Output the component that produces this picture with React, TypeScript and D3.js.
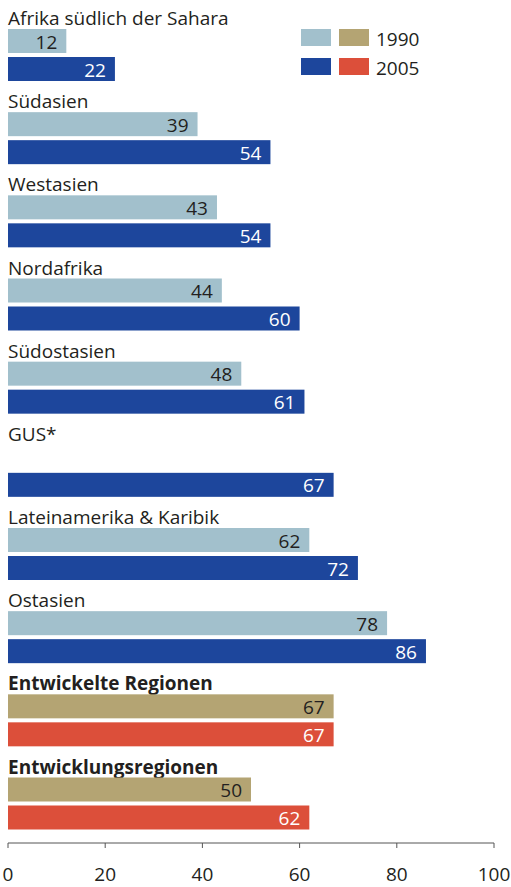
import React from 'react';
import * as d3 from 'd3';

const regions = [
  'Afrika südlich der Sahara',
  'Südasien',
  'Westasien',
  'Nordafrika',
  'Südostasien',
  'GUS*',
  'Lateinamerika & Karibik',
  'Ostasien',
  'Entwickelte Regionen',
  'Entwicklungsregionen'
];
const aggregates = ['Entwickelte Regionen', 'Entwicklungsregionen'];
const values1990: (number | null)[] = [12, 39, 43, 44, 48, null, 62, 78, 67, 50];
const values2005: number[] = [22, 54, 54, 60, 61, 67, 72, 86, 67, 62];
const ticks = [0, 20, 40, 60, 80, 100];
const years = ['1990', '2005'];

const W = 511, H = 887;
const font = '"Open Sans", Lato, sans-serif';
const fs = 19;
const ink = '#231f20';
const colors = {
  light: '#a2c0cc',
  dark: '#1d469c',
  gold: '#b4a473',
  red: '#dc4f3a'
};

export default function App() {
  const x = d3.scaleLinear().domain([0, 100]).range([8, 494]);
  const y = d3.scalePoint<string>().domain(regions).range([29, 777.5]);
  const barH = 24, gap = 4;
  const axisY = 843;

  const groups = regions.map((name, i) => {
    const top = y(name) as number;
    const agg = aggregates.includes(name);
    const bars = [
      { v: values1990[i], fill: agg ? colors.gold : colors.light, text: ink, y0: top },
      { v: values2005[i], fill: agg ? colors.red : colors.dark, text: '#ffffff', y0: top + barH + gap }
    ];
    return (
      <g key={name}>
        <text x={8} y={top - 4} fontSize={fs} fontWeight={agg ? 700 : 400} fill={ink}>{name}</text>
        {bars.map((b, j) => b.v == null ? null : (
          <g key={j}>
            <rect x={x(0)} y={b.y0} width={x(b.v) - x(0)} height={barH} fill={b.fill} />
            <text x={x(b.v) - 9} y={b.y0 + 19.5} textAnchor="end" fontSize={fs} fill={b.text}>{b.v}</text>
          </g>
        ))}
      </g>
    );
  });

  return (
    <div style={{ position: 'absolute', left: 0, top: 0 }}>
      <svg width={W} height={H} fontFamily={font}>
        <rect width={W} height={H} fill="#ffffff" />
        {groups}

        <g className="legend">
          {years.map((yr, i) => (
            <g key={yr} transform={`translate(301,${29 + i * 29})`}>
              <rect x={0} y={0} width={30} height={17} fill={i === 0 ? colors.light : colors.dark} />
              <rect x={38} y={0} width={30} height={17} fill={i === 0 ? colors.gold : colors.red} />
              <text x={75} y={17} fontSize={fs} fill={ink}>{yr}</text>
            </g>
          ))}
        </g>

        <g className="axis">
          <line x1={x(0)} x2={x(100)} y1={axisY} y2={axisY} stroke="#555" strokeWidth={1} />
          {ticks.map(t => (
            <g key={t}>
              <line x1={x(t)} x2={x(t)} y1={axisY} y2={axisY + 5} stroke="#555" strokeWidth={1} />
              <text x={x(t)} y={881} textAnchor="middle" fontSize={fs} fill={ink}>{t}</text>
            </g>
          ))}
        </g>
      </svg>
    </div>
  );
}
